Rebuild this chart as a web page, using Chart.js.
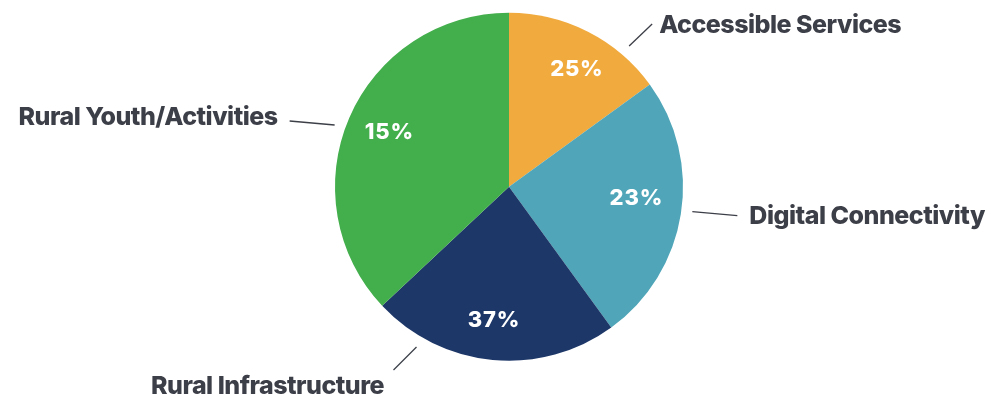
<!DOCTYPE html>
<html>
<head>
<meta charset="utf-8">
<script src="https://cdn.jsdelivr.net/npm/chart.js@4/dist/chart.umd.min.js"></script>
<style>
  html, body { margin: 0; padding: 0; background: #ffffff; }
  #wrap { width: 992px; height: 403px; }
</style>
</head>
<body>
<div id="wrap"><canvas id="pie-chart" width="992" height="403"></canvas></div>
<script>
// slice sizes as drawn, clockwise from 12 o'clock
const categories = ["Accessible Services", "Digital Connectivity", "Rural Infrastructure", "Rural Youth/Activities"];
const sliceValues = [15, 25, 23, 37];
// percentage text printed on each slice
const sliceLabels = ["25%", "23%", "37%", "15%"];
const sliceColors = ["#f0aa3e", "#50a6b8", "#1d3768", "#43ae4c"];

// callout layout: leader line starts at angle (deg, clockwise from top) just outside the pie
const callouts = [
  { angle: 40.5, dx: 23, dy: -22, align: "left", tx: 7, ty: 9 },
  { angle: 97.7, dx: 45, dy: 4, align: "left", tx: 12, ty: 8 },
  { angle: 210, dx: -23, dy: 23, align: "center", tx: -126, ty: 24 },
  { angle: 289.5, dx: -45, dy: -4, align: "right", tx: -12, ty: 4 }
];
// small nudges of the slice value text (angle deg, radius factor)
const valueNudge = [[3, 0.78], [-3.7, 0.735], [1, 0.77], [1, 0.755]];

const labelPlugin = {
  id: "pieLabels",
  afterDatasetsDraw(chart) {
    const ctx = chart.ctx;
    const arcs = chart.getDatasetMeta(0).data;
    ctx.save();
    // values on slices
    ctx.fillStyle = "#ffffff";
    ctx.font = "800 22px Inter";
    ctx.letterSpacing = "0.8px";
    ctx.textAlign = "center";
    ctx.textBaseline = "middle";
    arcs.forEach((arc, i) => {
      const mid = (arc.startAngle + arc.endAngle) / 2 + valueNudge[i][0] * Math.PI / 180;
      const r = arc.outerRadius * valueNudge[i][1];
      ctx.fillText(sliceLabels[i], arc.x + Math.cos(mid) * r, arc.y + Math.sin(mid) * r);
    });
    // category callouts
    const cx = arcs[0].x, cy = arcs[0].y, R = arcs[0].outerRadius;
    ctx.strokeStyle = "#3d3f48";
    ctx.lineWidth = 1.3;
    ctx.fillStyle = "#3d3f48";
    ctx.font = "800 25px Inter";
    ctx.letterSpacing = "-0.5px";
    ctx.textBaseline = "alphabetic";
    callouts.forEach((c, i) => {
      const a = (c.angle - 90) * Math.PI / 180;
      const x0 = cx + Math.cos(a) * (R + 11);
      const y0 = cy + Math.sin(a) * (R + 11);
      const x1 = x0 + c.dx, y1 = y0 + c.dy;
      ctx.beginPath();
      ctx.moveTo(x0, y0);
      ctx.lineTo(x1, y1);
      ctx.stroke();
      ctx.textAlign = c.align;
      ctx.fillText(categories[i], x1 + c.tx, y1 + c.ty);
    });
    ctx.restore();
  }
};

new Chart(document.getElementById("pie-chart").getContext("2d"), {
  type: "pie",
  data: {
    labels: categories,
    datasets: [{
      data: sliceValues,
      backgroundColor: sliceColors,
      borderWidth: 0
    }]
  },
  options: {
    responsive: false,
    animation: false,
    layout: { padding: { left: 335, right: 309, top: 12.5, bottom: 42 } },
    plugins: {
      legend: { display: false },
      tooltip: { enabled: false }
    }
  },
  plugins: [labelPlugin]
});
</script>
</body>
</html>
